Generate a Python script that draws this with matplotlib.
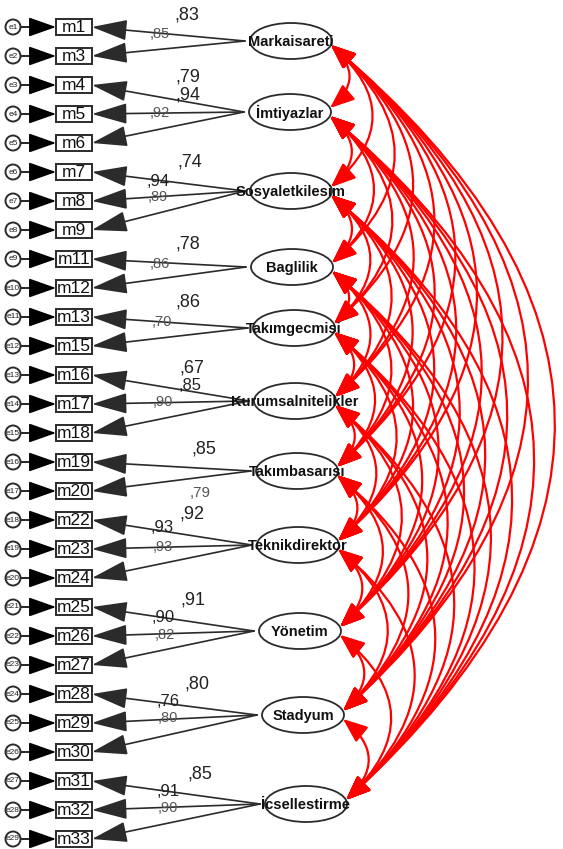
import matplotlib
matplotlib.use("Agg")
import matplotlib.pyplot as plt
from matplotlib.patches import Ellipse, Rectangle, Circle, FancyArrowPatch, ArrowStyle

# --- data ---
indicators = ["m1", "m3", "m4", "m5", "m6", "m7", "m8", "m9", "m11", "m12",
              "m13", "m15", "m16", "m17", "m18", "m19", "m20", "m22", "m23", "m24",
              "m25", "m26", "m27", "m28", "m29", "m30", "m31", "m32", "m33"]
errors = ["e%d" % (i + 1) for i in range(len(indicators))]
latents = ["Markaisareti", "İmtiyazlar", "Sosyaletkilesim", "Baglilik", "Takımgecmisi",
           "Kurumsalnitelikler", "Takımbasarısı", "Teknikdirektor", "Yönetim", "Stadyum",
           "İcsellestirme"]
n_items = [2, 3, 3, 2, 2, 3, 2, 3, 3, 3, 3]
loadings = [[",83", ",85"], [",79", ",94", ",92"], [",74", ",94", ",89"], [",78", ",86"],
            [",86", ",70"], [",67", ",85", ",90"], [",85", ",79"], [",92", ",93", ",93"],
            [",91", ",90", ",82"], [",80", ",76", ",80"], [",85", ",91", ",90"]]

# --- layout (pixels) ---
W, H = 563, 849
row0, row_step = 27, 29.0
box_x0, box_x1, box_h = 56, 92, 16
err_x, err_r = 13, 7.5
lat_y = [41, 112, 191, 267, 328, 401, 471, 545, 631, 715, 804]
lat_x = [291, 290, 291, 292, 294, 295, 297, 298, 300, 303, 306]
ell_w, ell_h = 82, 36
# label positions (x, y, fontsize) per loading
lab_pos = [[(187, 15, 13), (160, 34, 10.5)],
           [(188, 77, 13), (188, 95, 13), (160, 113, 10.5)],
           [(190, 162, 13), (158, 181, 12), (158, 197, 10.5)],
           [(188, 244, 13), (160, 264, 10.5)],
           [(188, 302, 13), (162, 322, 10.5)],
           [(192, 368, 13), (190, 385, 12), (163, 402, 10.5)],
           [(204, 449, 13), (200, 493, 11)],
           [(192, 514, 13), (162, 528, 12), (163, 547, 10.5)],
           [(193, 600, 13), (163, 617, 12), (165, 635, 10.5)],
           [(197, 684, 13), (168, 702, 12), (168, 718, 10.5)],
           [(200, 774, 13), (168, 792, 12), (168, 808, 10.5)]]

plt.rcParams["font.family"] = ["Liberation Sans", "DejaVu Sans"]
fig = plt.figure(figsize=(W / 100, H / 100), dpi=100)
ax = fig.add_axes([0, 0, 1, 1])
ax.set_xlim(0, W); ax.set_ylim(H, 0); ax.axis("off")

dark = "#2b2b2b"
head_box = ArrowStyle("-|>", head_length=22, head_width=6.5)
head_err = ArrowStyle("-|>", head_length=17, head_width=6.0)

ys = [row0 + i * row_step for i in range(len(indicators))]
for name, e, y in zip(indicators, errors, ys):
    ax.add_patch(Rectangle((box_x0, y - box_h / 2), box_x1 - box_x0, box_h,
                           fc="white", ec=dark, lw=1.4, zorder=3))
    ax.text((box_x0 + box_x1) / 2, y + 0.5, name, ha="center", va="center",
            fontsize=12.5, color="#111", zorder=4)
    ax.add_patch(Circle((err_x, y), err_r, fc="white", ec=dark, lw=1.4, zorder=3))
    ax.text(err_x, y, e, ha="center", va="center", fontsize=6, color="#222", zorder=4)
    ax.add_patch(FancyArrowPatch((err_x + err_r, y), (box_x0, y), arrowstyle=head_err,
                                 mutation_scale=1, color="black", lw=1.2,
                                 shrinkA=0, shrinkB=0, zorder=2))

# loadings
k = 0
for li, (lx, ly, n) in enumerate(zip(lat_x, lat_y, n_items)):
    src = (lx - 46, ly)
    for j in range(n):
        y = ys[k]
        ax.add_patch(FancyArrowPatch(src, (box_x1, y), arrowstyle=head_box,
                                     mutation_scale=1, color=dark, lw=1.2,
                                     shrinkA=0, shrinkB=0, zorder=2))
        tx, ty, fs = lab_pos[li][j]
        ax.text(tx, ty, loadings[li][j], ha="center", va="center", fontsize=fs,
                color="#222" if fs >= 12 else "#555", zorder=5)
        k += 1

# covariances
head_cov = ArrowStyle("<|-|>", head_length=15, head_width=6)
for i in range(len(latents)):
    for j in range(i + 1, len(latents)):
        a = (lat_x[i] + ell_w / 2 - 1, lat_y[i] + 4)
        b = (lat_x[j] + ell_w / 2 - 1, lat_y[j] - 4)
        ax.add_patch(FancyArrowPatch(a, b, arrowstyle=head_cov, mutation_scale=1,
                                     connectionstyle="arc3,rad=-0.57", color="#ff0000",
                                     lw=1.6, shrinkA=0, shrinkB=0, zorder=1))

for name, lx, ly in zip(latents, lat_x, lat_y):
    ax.add_patch(Ellipse((lx, ly), ell_w, ell_h, fc="white", ec=dark, lw=1.3, zorder=3))
    ax.text(lx, ly + 1, name, ha="center", va="center", fontsize=10.5,
            fontweight="bold", color="#111", zorder=6)

fig.savefig("out.png", dpi=100)
